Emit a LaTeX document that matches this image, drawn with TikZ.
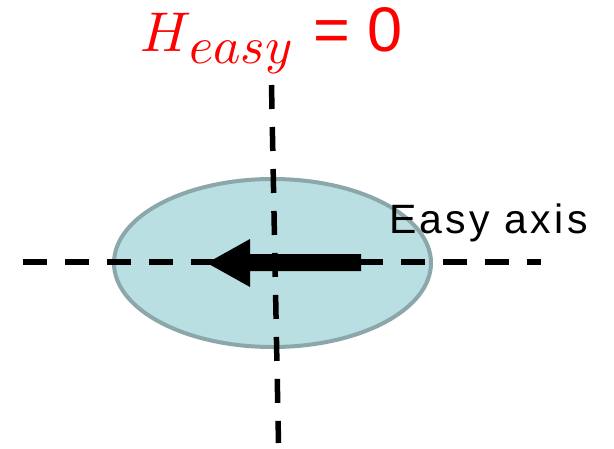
\documentclass[tikz,border=0pt]{standalone}
\usepackage{fontspec}
\usepackage{unicode-math}
\setsansfont{Liberation Sans}
\newfontfamily\lsfont[LetterSpace=8]{Liberation Sans}
\usetikzlibrary{shapes.geometric}
\definecolor{ellfill}{HTML}{B9DFE2}
\definecolor{elldraw}{HTML}{8BA7A9}
\definecolor{titlered}{HTML}{FF0000}
\tikzset{
  axisline/.style={draw=black, line width=5.5pt, dash pattern=on 24pt off 18pt},
  grain/.style={ellipse, fill=ellfill, draw=elldraw, line width=4pt, inner sep=0pt,
                minimum width=317pt, minimum height=168pt},
  magarrow/.style={fill=black},
}
\begin{document}
\begin{tikzpicture}[x=1pt,y=-1pt]
\useasboundingbox (0,0) rectangle (614,448);
\fill[white] (0,0) rectangle (614,448);
% grain
\node[grain] (grain) at (272.5,263) {};
% axes
\coordinate (hl) at (23,262);
\coordinate (hr) at (541,262);
\coordinate (vt) at (271.5,85);
\coordinate (vb) at (278.5,443);
\draw[axisline] (hl) -- (hr);
% magnetization arrow
\coordinate (tip) at (207,263);
\fill[magarrow] (tip) -- (250,239) -- (250,254) -- (361,254) -- (361,271) -- (250,271) -- (250,287) -- cycle;
\draw[axisline] (vt) -- (vb);
% labels
\node[anchor=base west, inner sep=0pt, text=titlered] (hsym) at (140,51)
  {\fontsize{56}{60}\selectfont$H$\kern-2pt\raisebox{-12pt}{\fontsize{52}{52}\selectfont$easy$}\kern21pt{\fontsize{63}{63}\selectfont\sffamily= 0}};
\node[anchor=base west, inner sep=0pt] (easy) at (389,233)
  {\fontsize{41}{43}\selectfont\lsfont Easy axis};
\end{tikzpicture}
\end{document}
